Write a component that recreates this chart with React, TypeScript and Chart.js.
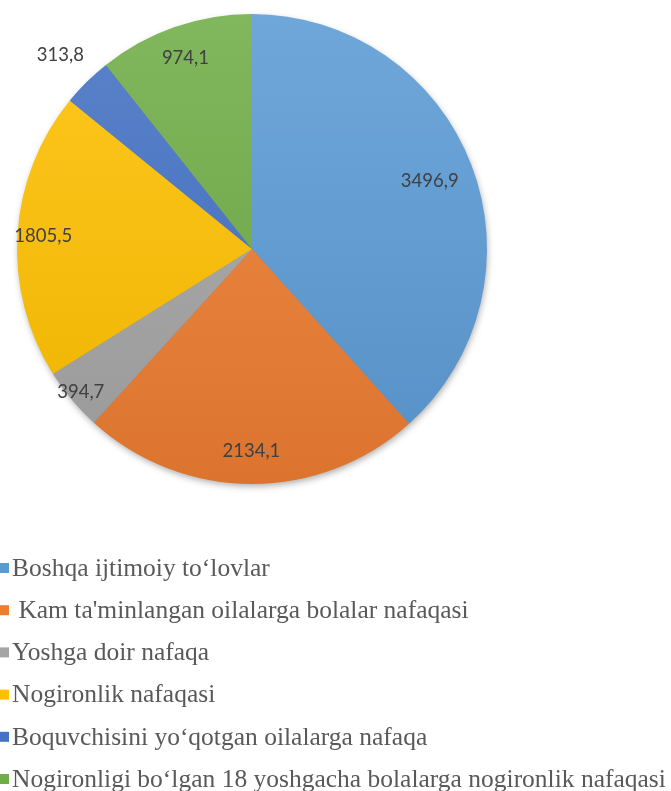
import React, { useEffect, useRef } from "react";
import { Chart, registerables } from "chart.js";

Chart.register(...registerables);

const categories = [
  "Boshqa ijtimoiy to‘lovlar",
  " Kam ta'minlangan oilalarga bolalar nafaqasi",
  "Yoshga doir nafaqa",
  "Nogironlik nafaqasi",
  "Boquvchisini yo‘qotgan oilalarga nafaqa",
  "Nogironligi bo‘lgan 18 yoshgacha bolalarga nogironlik nafaqasi",
];
const values = [3496.9, 2134.1, 394.7, 1805.5, 313.8, 974.1];
const valueLabels = ["3496,9", "2134,1", "394,7", "1805,5", "313,8", "974,1"];

const baseColors = ["#5B9BD5", "#ED7D31", "#A5A5A5", "#FFC000", "#4472C4", "#70AD47"];
const labelRadius = [0.81, 0.86, 0.95, 0.89, 1.16, 0.86];

function mix(hex: string, target: number, amt: number) {
  const n = parseInt(hex.slice(1), 16);
  const r = (n >> 16) & 255, g = (n >> 8) & 255, b = n & 255;
  const f = (c: number) => Math.round(c + (target - c) * amt);
  return `rgb(${f(r)},${f(g)},${f(b)})`;
}

const shadowPlugin = {
  id: "pieShadow",
  beforeDatasetsDraw(chart: any) {
    const meta = chart.getDatasetMeta(0);
    const arc = meta.data[0];
    if (!arc) return;
    const { x, y, outerRadius } = arc.getProps(["x", "y", "outerRadius"], true);
    const ctx = chart.ctx;
    ctx.save();
    ctx.shadowColor = "rgba(0,0,0,0.35)";
    ctx.shadowBlur = 7;
    ctx.shadowOffsetX = 1;
    ctx.shadowOffsetY = 3;
    ctx.fillStyle = "#888";
    ctx.beginPath();
    ctx.arc(x, y, outerRadius - 1, 0, Math.PI * 2);
    ctx.fill();
    ctx.restore();
  },
};

const labelPlugin = {
  id: "valueLabels",
  afterDatasetsDraw(chart: any) {
    const meta = chart.getDatasetMeta(0);
    const ctx = chart.ctx;
    ctx.save();
    ctx.font = '18.5px Lato, "Open Sans", sans-serif';
    ctx.fillStyle = "#404040";
    ctx.textAlign = "center";
    ctx.textBaseline = "middle";
    meta.data.forEach((arc: any, i: number) => {
      const p = arc.getProps(["x", "y", "startAngle", "endAngle", "outerRadius"], true);
      const mid = (p.startAngle + p.endAngle) / 2;
      const r = p.outerRadius * labelRadius[i];
      ctx.fillText(valueLabels[i], p.x + Math.cos(mid) * r, p.y + Math.sin(mid) * r);
    });
    ctx.restore();
  },
};

const legendPlugin = {
  id: "customLegend",
  afterDraw(chart: any) {
    const ctx = chart.ctx;
    ctx.save();
    ctx.font = '25.5px "Liberation Serif", "Times New Roman", serif';
    ctx.textBaseline = "middle";
    ctx.textAlign = "left";
    const labels: string[] = chart.data.labels;
    labels.forEach((lab, i) => {
      const y = 568 + i * 42.2;
      ctx.fillStyle = baseColors[i];
      ctx.fillRect(0, y - 5, 9, 10);
      ctx.fillStyle = "#595959";
      ctx.fillText(lab, 12, y + 1);
    });
    ctx.restore();
  },
};

export default function App() {
  const ref = useRef<HTMLCanvasElement>(null);
  useEffect(() => {
    if (!ref.current) return;
    const chart = new Chart(ref.current, {
      type: "pie",
      data: {
        labels: categories,
        datasets: [
          {
            data: values,
            borderWidth: 0,
            backgroundColor: (c: any) => {
              const i = c.dataIndex;
              const area = c.chart.chartArea;
              if (!area) return baseColors[i];
              const g = c.chart.ctx.createLinearGradient(0, area.top, 0, area.bottom);
              g.addColorStop(0, mix(baseColors[i], 255, 0.12));
              g.addColorStop(1, mix(baseColors[i], 0, 0.07));
              return g;
            },
          },
        ],
      },
      options: {
        animation: false,
        responsive: false,
        layout: { padding: { left: 17, top: 14, right: 184, bottom: 307 } },
        plugins: {
          legend: { display: false },
          tooltip: { enabled: false },
        },
      },
      plugins: [shadowPlugin, labelPlugin, legendPlugin],
    });
    return () => chart.destroy();
  }, []);
  return (
    <div style={{ position: "fixed", left: 0, top: 0, width: 671, height: 791, background: "#fff" }}>
      <canvas ref={ref} width={671} height={791} style={{ width: 671, height: 791 }} />
    </div>
  );
}
